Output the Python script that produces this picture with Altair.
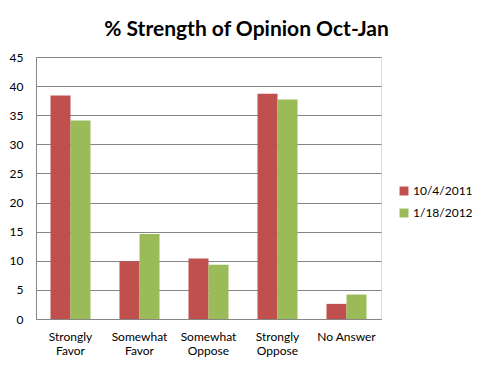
import altair as alt
import pandas as pd

categories = ["Strongly Favor", "Somewhat Favor", "Somewhat Oppose", "Strongly Oppose", "No Answer"]
series_names = ["10/4/2011", "1/18/2012"]
values_oct = [38.4, 9.9, 10.4, 38.7, 2.6]
values_jan = [34.1, 14.6, 9.3, 37.7, 4.2]
y_ticks = [0, 5, 10, 15, 20, 25, 30, 35, 40, 45]

rows = []
for c, a, b in zip(categories, values_oct, values_jan):
    rows.append({"cat": c, "series": series_names[0], "value": a})
    rows.append({"cat": c, "series": series_names[1], "value": b})
df = pd.DataFrame(rows)

FONT = "Lato"

chart = alt.Chart(df).mark_bar().encode(
    x=alt.X("cat:N", sort=categories, title=None,
            scale=alt.Scale(paddingInner=0.42, paddingOuter=0.21),
            axis=alt.Axis(labelAngle=0, ticks=False, domainColor="#868686",
                          labelColor="black", labelFont=FONT, labelFontSize=12,
                          labelPadding=12,
                          labelExpr="datum.label == 'No Answer' ? datum.label : split(datum.label, ' ')")),
    xOffset=alt.XOffset("series:N", sort=series_names),
    y=alt.Y("value:Q", title=None,
            scale=alt.Scale(domain=[0, 45], nice=False),
            axis=alt.Axis(values=y_ticks, ticks=False, domainColor="#868686",
                          gridColor="#868686", gridOpacity=1,
                          labelColor="black", labelFont=FONT, labelFontSize=12,
                          labelPadding=13)),
    color=alt.Color("series:N", sort=series_names,
                    scale=alt.Scale(domain=series_names, range=["#C0504D", "#9BBB59"]),
                    legend=alt.Legend(title=None, orient="none", legendX=362, legendY=128,
                                      symbolType="square", symbolSize=80,
                                      symbolStrokeWidth=0, labelFont=FONT,
                                      labelFontSize=12, labelColor="black",
                                      rowPadding=10, labelOffset=3)),
).properties(
    width=345, height=262,
    title=alt.TitleParams("% Strength of Opinion Oct-Jan", font=FONT, fontSize=21,
                          fontWeight="bold", color="black", anchor="middle",
                          dx=38, offset=11),
    autosize=alt.AutoSizeParams(type="none"),
    padding={"left": 28, "top": 49, "right": 96, "bottom": 44},
).configure_view(stroke=None).configure(background="white")

chart.save("out.html", embed_options={"renderer": "svg", "actions": False})
